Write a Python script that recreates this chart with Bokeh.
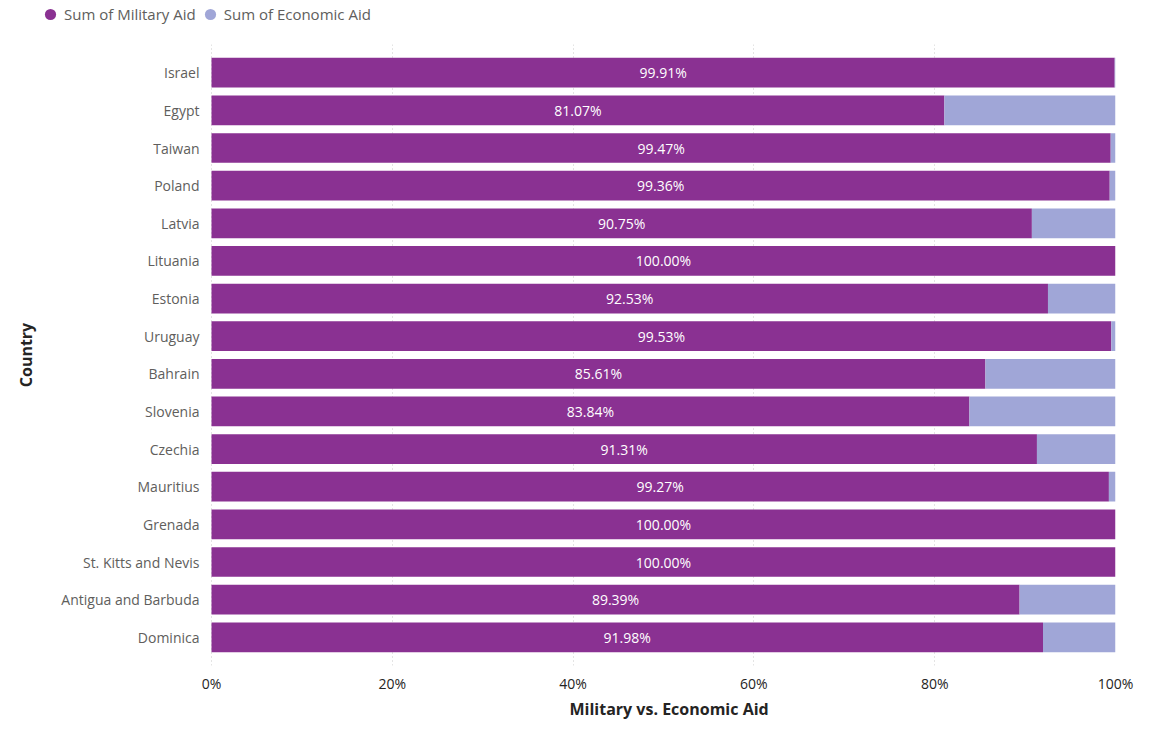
from bokeh.plotting import figure
from bokeh.layouts import column
from bokeh.models import (ColumnDataSource, FactorRange, Range1d, Legend, LegendItem,
                          NumeralTickFormatter, FixedTicker, Title)
from bokeh.core.properties import value
from bokeh.embed import file_html
from bokeh.resources import INLINE

countries = ["Israel", "Egypt", "Taiwan", "Poland", "Latvia", "Lituania", "Estonia",
             "Uruguay", "Bahrain", "Slovenia", "Czechia", "Mauritius", "Grenada",
             "St. Kitts and Nevis", "Antigua and Barbuda", "Dominica"]
military_pct = [99.91, 81.07, 99.47, 99.36, 90.75, 100.00, 92.53, 99.53, 85.61,
                83.84, 91.31, 99.27, 100.00, 100.00, 89.39, 91.98]
economic_pct = [round(100 - m, 2) for m in military_pct]
x_ticks = [0, 0.2, 0.4, 0.6, 0.8, 1.0]
series_names = ["Sum of Military Aid", "Sum of Economic Aid"]

MIL = "#8A3192"
ECO = "#A0A6D7"
FONT = "Open Sans"

W = 1135
STRIP_H = 44
H = 720 - STRIP_H
LEFT, RIGHT, TOP, BOTTOM = 36, 20, 0, 55
ZERO_PX = 211                      # screen x of the 0% baseline
LEG_H = 28
x_start = -(ZERO_PX - LEFT) / (W - RIGHT - ZERO_PX)

src = ColumnDataSource(dict(
    country=countries,
    mil=[m / 100 for m in military_pct],
    eco=[e / 100 for e in economic_pct],
    mid=[m / 200 for m in military_pct],
    base=[0.0] * len(countries),
    lab=["%.2f%%" % m for m in military_pct],
))

# ---------- legend strip ----------
lg = figure(width=W, height=STRIP_H, x_range=Range1d(0, 1), y_range=Range1d(0, 1),
            x_axis_type=None, y_axis_type=None, min_border=0,
            output_backend="svg", toolbar_location=None)
lg.outline_line_color = None
lg.xgrid.visible = False
lg.ygrid.visible = False
r1 = lg.scatter(x="mid", y="mil", source=src, marker="circle", size=0,
                color=MIL, line_color=None)
r2 = lg.scatter(x="mid", y="mil", source=src, marker="circle", size=0,
                color=ECO, line_color=None)
legend = Legend(items=[LegendItem(label=series_names[0], renderers=[r1], index=0),
                       LegendItem(label=series_names[1], renderers=[r2], index=0)],
                orientation="horizontal", location=(0, STRIP_H - LEG_H),
                label_text_font=FONT, label_text_font_size="15px",
                label_text_color="#605E5C", glyph_width=LEG_H, glyph_height=LEG_H,
                label_height=16, label_standoff=-4, spacing=0, padding=0, margin=0,
                border_line_color=None, background_fill_alpha=0)
lg.add_layout(legend, "center")

# ---------- main chart ----------
p = figure(y_range=FactorRange(factors=countries[::-1], range_padding=0.25,
                               range_padding_units="absolute"),
           x_range=Range1d(x_start, 1),
           width=W, height=H, y_axis_location=None,
           min_border_left=LEFT, min_border_right=RIGHT, min_border_top=TOP,
           min_border_bottom=BOTTOM,
           output_backend="svg", toolbar_location=None)
p.outline_line_color = None
p.background_fill_color = "white"
p.border_fill_color = "white"

p.hbar_stack(["mil", "eco"], y="country", height=0.79, color=[MIL, ECO],
             line_color=None, source=src)

p.text(x="mid", y="country", text="lab", source=src, text_color="white",
       text_font=value(FONT), text_font_size="14px", text_align="center",
       text_baseline="middle")

p.text(x="base", y="country", text="country", source=src, x_offset=-12,
       text_color="#605E5C", text_font=value(FONT), text_font_size="14px",
       text_align="right", text_baseline="middle")

p.add_layout(Title(text="Country", align="center", text_font=FONT,
                   text_font_size="16px", text_font_style="bold",
                   text_color="#252423", standoff=0, offset=0), "left")

p.xaxis.ticker = FixedTicker(ticks=x_ticks)
p.xaxis.formatter = NumeralTickFormatter(format="0%")
p.xaxis.axis_line_color = None
p.xaxis.major_tick_line_color = None
p.xaxis.minor_tick_line_color = None
p.xaxis.major_label_standoff = 2
p.xaxis.major_label_text_font = FONT
p.xaxis.major_label_text_font_size = "14px"
p.xaxis.major_label_text_color = "#252423"

p.add_layout(Title(text="Military vs. Economic Aid", align="left",
                   offset=569 - LEFT, text_font=FONT, text_font_size="16px",
                   text_font_style="bold", text_color="#252423", standoff=0), "below")

p.ygrid.grid_line_color = None
p.xgrid.grid_line_color = "#C8C8C8"
p.xgrid.grid_line_dash = "1 3"

open("out.html", "w").write(file_html(column(lg, p, spacing=0), INLINE))
